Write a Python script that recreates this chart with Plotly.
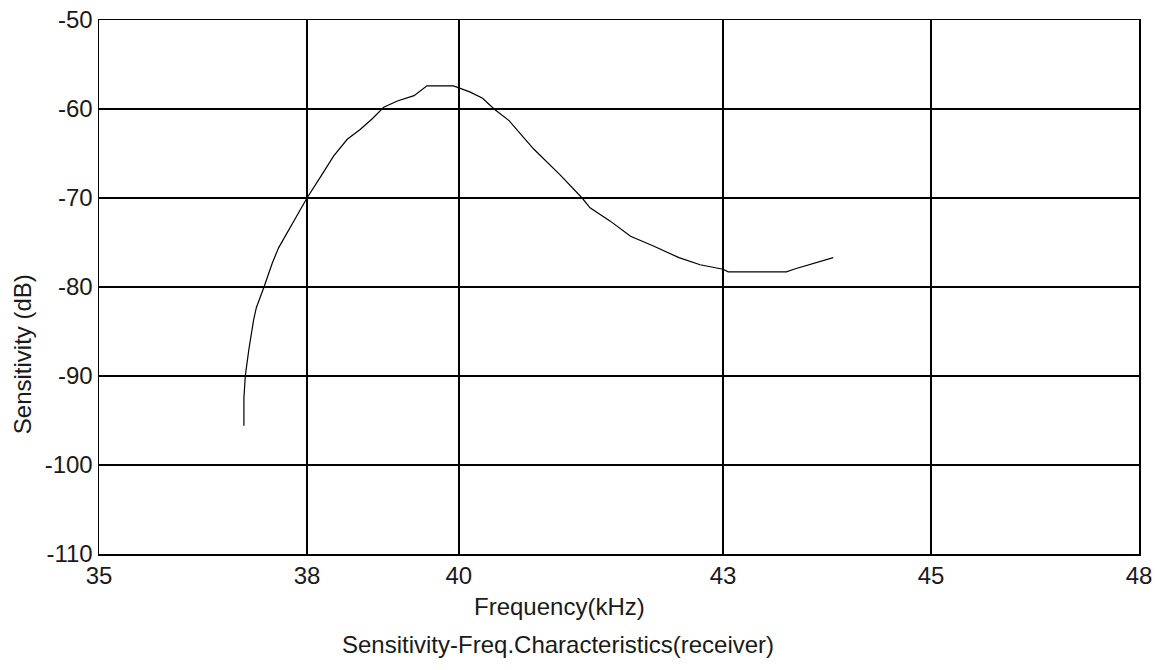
import numpy as np
import plotly.graph_objects as go

# Data (frequency in kHz, sensitivity in dB)
freq_khz = [37.09, 37.09, 37.11, 37.16, 37.23, 37.27, 37.38, 37.50, 37.59, 37.76,
            38.00, 38.18, 38.35, 38.53, 38.70, 38.86, 39.01, 39.19, 39.41, 39.58,
            39.93, 40.13, 40.27, 40.40, 40.57, 40.85, 41.15, 41.40, 41.49, 41.72,
            41.95, 42.21, 42.50, 42.74, 43.00, 43.05, 43.61, 43.68, 44.06]
sens_db = [-95.6, -92.5, -90.0, -87.1, -83.7, -82.3, -80.0, -77.3, -75.6, -73.3,
           -70.0, -67.6, -65.3, -63.4, -62.3, -61.1, -59.8, -59.1, -58.5, -57.4,
           -57.4, -58.1, -58.8, -60.0, -61.3, -64.5, -67.4, -70.0, -71.1, -72.6,
           -74.3, -75.4, -76.7, -77.5, -78.0, -78.3, -78.3, -78.0, -76.7]

x_tick_labels = [35, 38, 40, 43, 45, 48]
y_tick_values = [-110, -100, -90, -80, -70, -60, -50]

# The reference's frequency grid is drawn with uneven spacing; positions of the grid lines
grid_positions = [0, 1, 1.73, 3, 4, 5]
x_disp = np.interp(freq_khz, x_tick_labels, grid_positions)

FONT = "Liberation Sans, Arial, sans-serif"

fig = go.Figure()
fig.add_trace(go.Scatter(x=x_disp, y=sens_db, mode="lines",
                         line=dict(color="#000000", width=1.2),
                         showlegend=False, hoverinfo="skip"))

fig.update_layout(
    width=1155, height=670,
    margin=dict(l=99, r=16, t=20, b=116),
    paper_bgcolor="white", plot_bgcolor="white",
    font=dict(family=FONT, size=24, color="#1a1a1a"),
    xaxis=dict(range=[0, 5], tickvals=grid_positions,
               ticktext=[str(v) for v in x_tick_labels],
               showgrid=True, gridcolor="#000000", gridwidth=1.5,
               showline=True, linecolor="#000000", linewidth=1.5, mirror=True,
               zeroline=False, ticks="", automargin=False, ticklabeloverflow="allow",
               tickfont=dict(size=24, family=FONT)),
    yaxis=dict(range=[-110, -50], tickvals=y_tick_values,
               ticktext=[str(v) for v in y_tick_values],
               showgrid=True, gridcolor="#000000", gridwidth=1.5,
               showline=True, linecolor="#000000", linewidth=1.5, mirror=True,
               zeroline=False, ticks="", automargin=False, ticklabeloverflow="allow",
               tickfont=dict(size=24, family=FONT)),
    annotations=[
        dict(text="Frequency(kHz)", xref="paper", yref="paper", x=0.443, y=-0.099,
             xanchor="center", yanchor="middle", showarrow=False,
             font=dict(size=24, family=FONT, color="#1a1a1a")),
        dict(text="Sensitivity-Freq.Characteristics(receiver)", xref="paper", yref="paper",
             x=0.441, y=-0.170, xanchor="center", yanchor="middle", showarrow=False,
             font=dict(size=24, family=FONT, color="#1a1a1a")),
        dict(text="Sensitivity (dB)", xref="paper", yref="paper", x=-0.0736, y=0.375,
             xanchor="center", yanchor="middle", textangle=-90, showarrow=False,
             font=dict(size=24, family=FONT, color="#1a1a1a")),
    ],
)

# remove the default page margin so the 1155x670 figure fills the window exactly
fig.write_html(
    "out.html",
    config={"displayModeBar": False, "staticPlot": True},
    post_script="document.body.style.margin='0';"
                "document.documentElement.style.overflow='hidden';"
                "document.body.style.overflow='hidden';",
)
